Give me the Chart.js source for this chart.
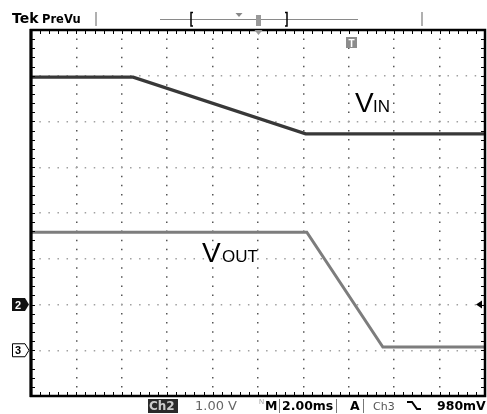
<!DOCTYPE html>
<html><head><meta charset="utf-8">
<script src="https://cdn.jsdelivr.net/npm/chart.js@4"></script>
<style>html,body{margin:0;padding:0;background:#fff;}canvas{display:block}</style>
</head><body>
<canvas id="c" width="487" height="414"></canvas>
<script>
// Time axis in ms (2 ms/div, 10 divisions); vertical in screen divisions (8 divisions)
const xTickValues = [0, 2, 4, 6, 8, 10, 12, 14, 16, 18, 20];
const yTickValues = [0, 1, 2, 3, 4, 5, 6, 7, 8];
const vinTimeMs = [0, 4.5, 12.1, 20];
const vinDiv = [6.97, 6.97, 5.73, 5.73];
const voutTimeMs = [0, 12.15, 15.5, 20];
const voutDiv = [3.58, 3.58, 1.07, 1.07];
const seriesNames = ['VIN', 'VOUT'];

const toPts = (xs, ys) => xs.map((x, i) => ({x, y: ys[i]}));

const scopeDecor = {
  id: 'scopeDecor',
  afterDraw(chart) {
    const ctx = chart.ctx, a = chart.chartArea;
    const xs = chart.scales.x, ys = chart.scales.y;
    ctx.save();
    // minor ticks on the frame
    ctx.strokeStyle = '#000'; ctx.lineWidth = 1;
    ctx.beginPath();
    for (let v = 0; v <= 20.001; v += 0.4) {
      const px = Math.round(xs.getPixelForValue(v)) + 0.5;
      ctx.moveTo(px, a.top); ctx.lineTo(px, a.top + 4);
      ctx.moveTo(px, a.bottom); ctx.lineTo(px, a.bottom - 4);
    }
    for (let v = 0; v <= 8.001; v += 0.2) {
      const py = Math.round(ys.getPixelForValue(v)) + 0.5;
      ctx.moveTo(a.left, py); ctx.lineTo(a.left + 4, py);
      ctx.moveTo(a.right, py); ctx.lineTo(a.right - 4, py);
    }
    ctx.stroke();
    // frame
    ctx.lineWidth = 2.5;
    ctx.strokeRect(a.left, a.top, a.right - a.left, a.bottom - a.top);
    ctx.fillStyle = '#000';
    ctx.fillRect(a.left - 1.5, a.top - 1, 3, a.bottom - a.top + 2);

    // header
    ctx.fillStyle = '#000';
    ctx.textBaseline = 'alphabetic';
    ctx.font = 'bold 14px "DejaVu Sans"';
    ctx.fillText('Tek', 12, 23);
    ctx.font = 'bold 11.5px "DejaVu Sans"';
    ctx.fillText('PreVu', 42, 23);
    ctx.strokeStyle = '#b0b0b0'; ctx.lineWidth = 2;
    ctx.beginPath(); ctx.moveTo(96, 12); ctx.lineTo(96, 26); ctx.moveTo(422, 12); ctx.lineTo(422, 26); ctx.stroke();
    ctx.strokeStyle = '#8a8a8a'; ctx.lineWidth = 1;
    ctx.beginPath(); ctx.moveTo(160, 19.5); ctx.lineTo(358, 19.5); ctx.stroke();
    ctx.strokeStyle = '#000'; ctx.lineWidth = 1.5;
    ctx.beginPath();
    ctx.moveTo(193, 12.5); ctx.lineTo(191, 12.5); ctx.lineTo(191, 26); ctx.lineTo(193, 26);
    ctx.moveTo(285, 12.5); ctx.lineTo(287, 12.5); ctx.lineTo(287, 26); ctx.lineTo(285, 26);
    ctx.stroke();
    ctx.fillStyle = '#888';
    ctx.beginPath(); ctx.moveTo(235.5, 13); ctx.lineTo(242.5, 13); ctx.lineTo(239, 17); ctx.closePath(); ctx.fill();
    ctx.fillStyle = '#999';
    ctx.fillRect(256, 15, 5, 11);
    ctx.beginPath(); ctx.moveTo(254.5, 30); ctx.lineTo(262.5, 30); ctx.lineTo(258.5, 35); ctx.closePath(); ctx.fill();
    // trigger position marker
    ctx.fillStyle = '#8c8c8c';
    ctx.fillRect(346, 37, 11, 11);
    ctx.fillStyle = '#fff'; ctx.font = 'bold 10px "Liberation Sans"';
    ctx.textAlign = 'center'; ctx.fillText('T', 351.5, 46.5); ctx.textAlign = 'left';

    // channel ground markers
    const y2 = ys.getPixelForValue(2), y3 = ys.getPixelForValue(1);
    ctx.fillStyle = '#111';
    ctx.beginPath(); ctx.moveTo(12, y2 - 6.5); ctx.lineTo(25, y2 - 6.5); ctx.lineTo(29, y2); ctx.lineTo(25, y2 + 6.5); ctx.lineTo(12, y2 + 6.5); ctx.closePath(); ctx.fill();
    ctx.fillStyle = '#fff'; ctx.font = 'bold 11px "Liberation Sans"';
    ctx.fillText('2', 15, y2 + 4);
    ctx.strokeStyle = '#000'; ctx.lineWidth = 1; ctx.fillStyle = '#fff';
    ctx.beginPath(); ctx.moveTo(12.5, y3 - 6.5); ctx.lineTo(25, y3 - 6.5); ctx.lineTo(29, y3); ctx.lineTo(25, y3 + 6.5); ctx.lineTo(12.5, y3 + 6.5); ctx.closePath(); ctx.fill(); ctx.stroke();
    ctx.fillStyle = '#000'; ctx.font = 'bold 11px "Liberation Sans"';
    ctx.fillText('3', 15, y3 + 4);
    // trigger level arrow
    const yt = ys.getPixelForValue(2);
    ctx.fillStyle = '#000';
    ctx.beginPath(); ctx.moveTo(476, yt); ctx.lineTo(482, yt - 4); ctx.lineTo(482, yt + 4); ctx.closePath(); ctx.fill();

    // trace labels
    ctx.fillStyle = '#000';
    ctx.font = '28px "Liberation Sans"';
    ctx.fillText('V', 355, 112);
    ctx.font = '17px "Liberation Sans"';
    ctx.fillText('IN', 373, 112);
    ctx.font = '28px "Liberation Sans"';
    ctx.fillText('V', 202, 262);
    ctx.font = '17px "Liberation Sans"';
    ctx.fillText('OUT', 222, 262);

    // footer
    const fy = 410;
    ctx.fillStyle = '#2a2a2a'; ctx.fillRect(148, 399, 30, 14);
    ctx.fillStyle = '#ccc'; ctx.font = 'bold 12px "DejaVu Sans"';
    ctx.fillText('Ch2', 149, fy);
    ctx.fillStyle = '#666'; ctx.font = '13px "DejaVu Sans"';
    ctx.fillText('1.00 V', 195, fy);
    ctx.fillStyle = '#999'; ctx.font = '7px "Liberation Sans"';
    ctx.fillText('N', 259, 404);
    ctx.fillStyle = '#000'; ctx.font = 'bold 12.5px "DejaVu Sans"';
    ctx.fillText('M', 265, fy);
    ctx.fillText('2.00ms', 282, fy);
    ctx.fillText('A', 350, fy);
    ctx.fillText('980mV', 437, fy);
    ctx.strokeStyle = '#777'; ctx.lineWidth = 1;
    ctx.beginPath();
    ctx.moveTo(279.5, 399); ctx.lineTo(279.5, 413);
    ctx.moveTo(336.5, 399); ctx.lineTo(336.5, 413);
    ctx.moveTo(363.5, 399); ctx.lineTo(363.5, 413);
    ctx.stroke();
    ctx.fillStyle = '#555'; ctx.font = '11px "DejaVu Sans"';
    ctx.fillText('Ch3', 373, fy);
    ctx.strokeStyle = '#000'; ctx.lineWidth = 2;
    ctx.beginPath(); ctx.moveTo(407, 402); ctx.lineTo(412, 402); ctx.lineTo(417, 409); ctx.lineTo(421, 409); ctx.stroke();
    ctx.restore();
  }
};

new Chart(document.getElementById('c'), {
  type: 'line',
  data: {
    datasets: [
      { label: seriesNames[0], data: toPts(vinTimeMs, vinDiv), borderColor: '#383838', borderWidth: 3.2, pointRadius: 0, tension: 0 },
      { label: seriesNames[1], data: toPts(voutTimeMs, voutDiv), borderColor: '#7d7d7d', borderWidth: 3, pointRadius: 0, tension: 0 }
    ]
  },
  options: {
    responsive: false, animation: false, devicePixelRatio: 1,
    layout: { padding: { left: 31, right: 2, top: 30, bottom: 18 } },
    plugins: { legend: { display: false }, tooltip: { enabled: false } },
    scales: {
      x: {
        type: 'linear', min: 0, max: 20,
        afterBuildTicks: s => { s.ticks = xTickValues.map(v => ({value: v})); },
        ticks: { display: false },
        grid: { color: '#555', lineWidth: 1.5, drawTicks: false },
        border: { display: false, dash: [1.5, 7.65], dashOffset: 0.75 }
      },
      y: {
        min: 0, max: 8,
        afterBuildTicks: s => { s.ticks = yTickValues.map(v => ({value: v})); },
        ticks: { display: false },
        grid: { color: '#a0a0a0', lineWidth: 1.5, drawTicks: false },
        border: { display: false, dash: [1.5, 7.57], dashOffset: 0.75 }
      }
    }
  },
  plugins: [scopeDecor]
});
</script>
</body></html>
